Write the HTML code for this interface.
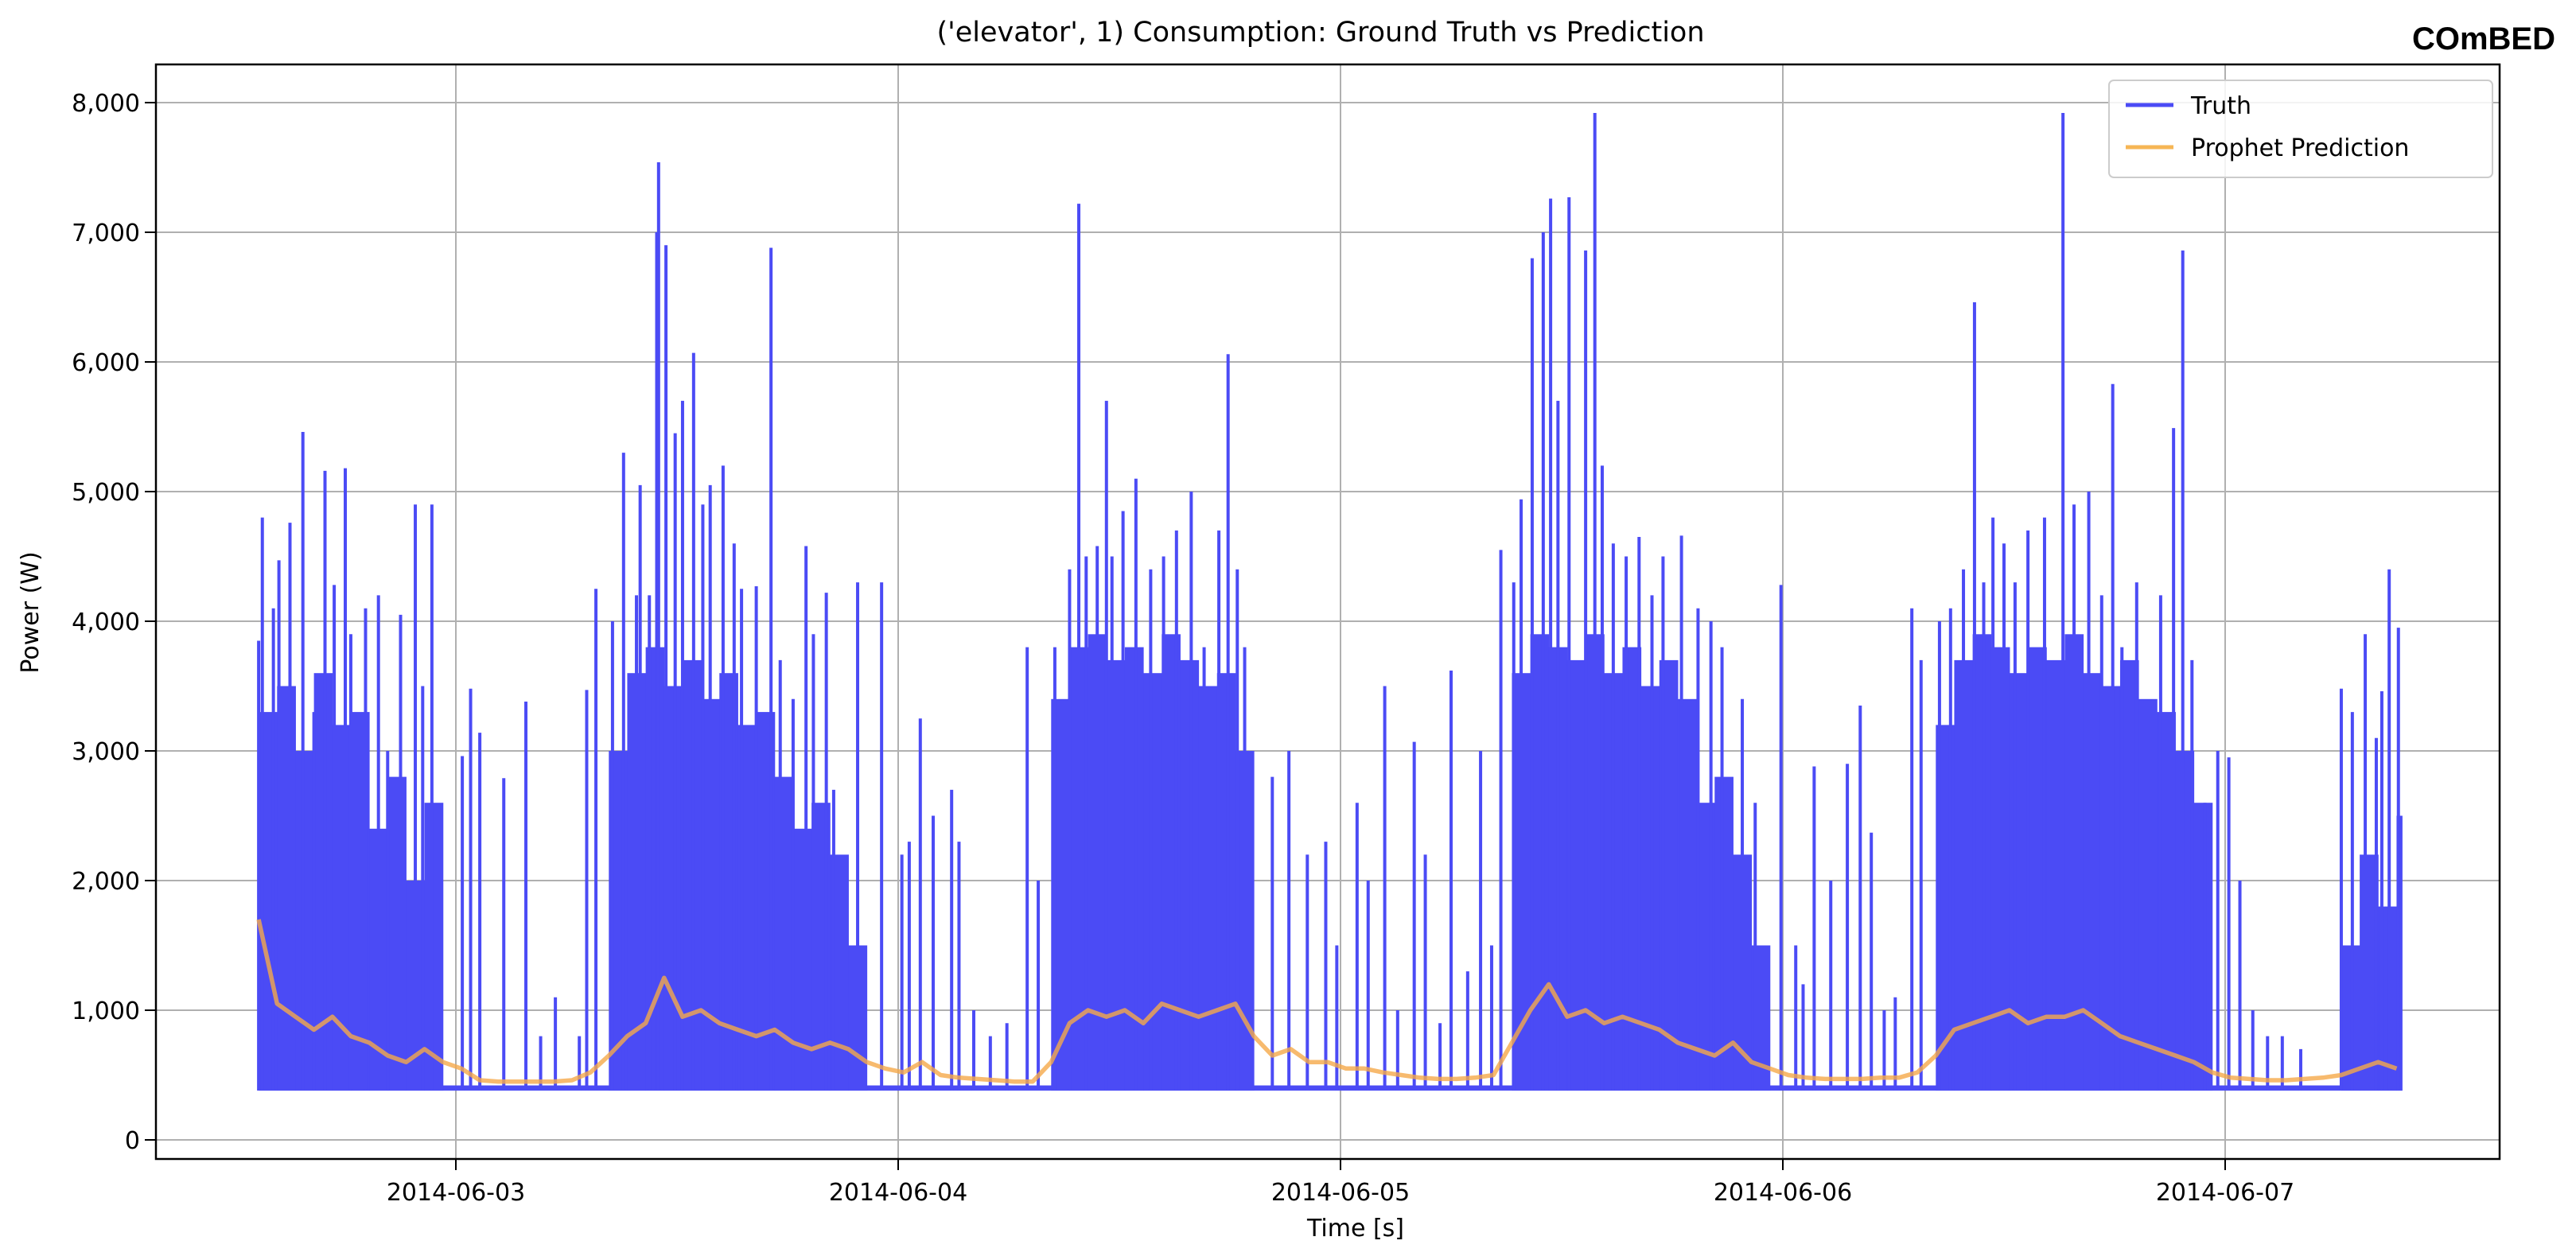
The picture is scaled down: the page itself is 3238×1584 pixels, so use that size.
<!DOCTYPE html>
<html><head><meta charset="utf-8"><style>
body{margin:0;background:#fff;}
svg{display:block;font-family:"DejaVu Sans","Liberation Sans",sans-serif;}
</style></head><body>
<svg id="chart" width="3238" height="1584" viewBox="0 0 3238 1584" xmlns="http://www.w3.org/2000/svg">
<rect width="3238" height="1584" fill="#fff"/>
<text x="1660" y="52" font-size="35" text-anchor="middle">('elevator', 1) Consumption: Ground Truth vs Prediction</text>
<text x="3212" y="62" font-size="40" font-weight="bold" text-anchor="end" font-family="Liberation Sans, sans-serif">COmBED</text>
<g id="grid"></g>
<g id="plot"></g>
<g id="axes"></g>
<text transform="translate(48,770) rotate(-90)" font-size="30" text-anchor="middle">Power (W)</text>
<text x="1704" y="1554" font-size="30" text-anchor="middle">Time [s]</text>
<g>
<rect x="2651" y="101" width="482" height="122" rx="6" fill="#fff" fill-opacity="0.85" stroke="#ccc" stroke-width="2"/>
<line x1="2672" y1="132" x2="2732" y2="132" stroke="#4b4bf5" stroke-width="5"/>
<text x="2754" y="143" font-size="30">Truth</text>
<line x1="2672" y1="185" x2="2732" y2="185" stroke="#f6b655" stroke-width="5"/>
<text x="2754" y="196" font-size="30">Prophet Prediction</text>
</g>
</svg>
<script>
// hours since 2014-06-02 00:00
const spikeHours=[13.3,13.5,14.1,14.4,15.0,15.7,16.3,16.9,17.4,18.0,18.3,19.1,19.8,20.3,21.0,21.8,22.2,22.7,
24.35,24.8,25.3,26.6,27.8,28.6,29.4,30.7,31.1,31.6,
32.5,33.1,33.8,34.0,34.5,34.9,35.0,35.4,35.9,36.3,36.9,37.4,37.8,38.5,39.1,39.5,40.3,41.1,41.6,42.3,43.0,43.4,44.1,44.5,45.8,47.1,
48.2,48.6,49.2,49.9,50.9,51.3,52.1,53.0,53.9,55.0,55.6,
56.5,57.3,57.8,58.2,58.8,59.3,59.6,60.2,60.9,61.7,62.4,63.1,63.9,64.6,65.4,65.9,66.4,66.8,
68.3,69.2,70.2,71.2,71.8,72.9,73.5,74.4,75.1,76.0,76.6,77.4,78.0,78.9,79.6,80.2,
80.7,81.4,81.8,82.4,83.0,83.4,83.8,84.4,85.3,85.8,86.2,86.8,87.5,88.2,88.9,89.5,90.5,91.4,92.1,92.7,93.8,94.5,
95.9,96.7,97.1,97.7,98.6,99.5,100.2,100.8,101.5,102.1,103.0,103.5,
104.5,105.1,105.8,106.4,106.9,107.4,108.0,108.6,109.3,110.2,111.2,111.8,112.6,113.3,113.9,114.4,115.2,116.5,117.2,117.7,118.2,118.9,
119.6,120.2,120.8,121.5,122.3,123.1,124.1,
126.3,126.9,127.6,128.2,128.5,128.9,129.4];
const spikeValues=[3850,4800,4100,4470,4760,5460,3300,5160,4280,5180,3900,4100,4200,3000,4050,4900,3500,4900,
2960,3480,3140,2790,3380,800,1100,800,3470,4250,
4000,5300,4200,5050,4200,7000,7540,6900,5450,5700,6070,4900,5050,5200,4600,4250,4270,6880,3700,3400,4580,3900,4220,2700,4300,4300,
2200,2300,3250,2500,2700,2300,1000,800,900,3800,2000,
3800,4400,7220,4500,4580,5700,4500,4850,5100,4400,4500,4700,5000,3800,4700,6060,4400,3800,
2800,3000,2200,2300,1500,2600,2000,3500,1000,3070,2200,900,3620,1300,3000,1500,
4550,4300,4940,6800,7000,7260,5700,7270,6860,7920,5200,4600,4500,4650,4200,4500,4660,4100,4000,3800,3400,2600,
4280,1500,1200,2880,2000,2900,3350,2370,1000,1100,4100,3700,
4000,4100,4400,6460,4300,4800,4600,4300,4700,4800,7920,4900,5000,4200,5830,3800,4300,4200,5490,6860,3700,2600,
3000,2950,2000,1000,800,800,700,
3480,3300,3900,3100,3460,4400,3950];
// hourly dense-activity top level (0 = idle)
const denseStartHour=13.3;
const denseLevel=[3300,3500,3000,3600,3200,3300,2400,2800,2000,2600,
0,0,0,0,0,0,0,0,0,
3000,3600,3800,3500,3700,3400,3600,3200,3300,
2800,2400,2600,2200,1500,
0,0,0,0,0,0,0,0,0,0,
3400,3800,3900,3700,3800,3600,3900,3700,3500,3600,3000,
0,0,0,0,0,0,0,0,0,0,0,0,0,0,
3600,3900,3800,3700,3900,3600,3800,3500,3700,3400,
2600,2800,2200,1500,
0,0,0,0,0,0,0,0,0,
3200,3700,3900,3800,3600,3800,3700,3900,3600,3500,3700,3400,3300,3000,2600,
0,0,0,0,0,0,0,
1500,2200,1800,2500];
const baseLevel=[420,380];
const seriesStart=13.3, seriesEnd=129.6;
const predStart=13.3, predStep=1;
const predValues=[1700,1050,950,850,950,800,750,650,600,700,600,550,460,450,450,450,450,460,520,650,800,900,1250,950,1000,900,850,800,850,750,700,750,700,600,550,520,600,500,480,470,460,450,450,600,900,1000,950,1000,900,1050,1000,950,1000,1050,800,650,700,600,600,550,550,520,500,480,470,470,480,500,750,1000,1200,950,1000,900,950,900,850,750,700,650,750,600,550,500,480,470,470,470,480,480,520,650,850,900,950,1000,900,950,950,1000,900,800,750,700,650,600,520,480,470,460,460,470,480,500,550,600,550];
const yTicks=[0,1000,2000,3000,4000,5000,6000,7000,8000];
const yTickLabels=["0","1,000","2,000","3,000","4,000","5,000","6,000","7,000","8,000"];
const xTicks=[24,48,72,96,120];
const xTickLabels=["2014-06-03","2014-06-04","2014-06-05","2014-06-06","2014-06-07"];

const L=196,R=3142,T=81,B=1457;
const x=h=>573+(h-24)/24*556;
const y=v=>1433-v*0.163;
const NS="http://www.w3.org/2000/svg";
function mk(tag,attrs,parent){const e=document.createElementNS(NS,tag);for(const k in attrs)e.setAttribute(k,attrs[k]);parent.appendChild(e);return e;}
const grid=document.getElementById('grid'),plot=document.getElementById('plot'),axes=document.getElementById('axes');
yTicks.forEach((v,i)=>{
  const g=mk('line',{x1:L,x2:R,y1:y(v),y2:y(v),stroke:'#b0b0b0','stroke-width':2},grid);
  
  
  mk('line',{x1:L-14,x2:L,y1:y(v),y2:y(v),stroke:'#000','stroke-width':2},axes);
  const t=mk('text',{x:L-20,y:y(v)+11,'font-size':30,'text-anchor':'end'},axes);
  t.textContent=yTickLabels[i];
  
  
});
xTicks.forEach((h,i)=>{
  const g=mk('line',{x1:x(h),x2:x(h),y1:T,y2:B,stroke:'#b0b0b0','stroke-width':2},grid);
  
  
  mk('line',{x1:x(h),x2:x(h),y1:B,y2:B+14,stroke:'#000','stroke-width':2},axes);
  const t=mk('text',{x:x(h),y:B+52,'font-size':30,'text-anchor':'middle'},axes);
  t.textContent=xTickLabels[i];
  
  
});
const blue='#4b4bf5';
const band=mk('rect',{x:x(seriesStart),y:y(baseLevel[0]),width:x(seriesEnd)-x(seriesStart),height:y(baseLevel[1])-y(baseLevel[0]),fill:blue},plot);


denseLevel.forEach((v,i)=>{
  if(!v) return;
  const s=denseStartHour+i, e=Math.min(s+1,seriesEnd);
  const r=mk('rect',{x:x(s),y:y(v),width:x(e)-x(s)+0.5,height:y(baseLevel[1])-y(v),fill:blue},plot);
  
  
});
spikeHours.forEach((h,i)=>{
  const l=mk('line',{x1:x(h),x2:x(h),y1:y(baseLevel[1]),y2:y(spikeValues[i]),stroke:blue,'stroke-width':4},plot);
  
  
});
const pts=predValues.map((v,i)=>x(predStart+i*predStep).toFixed(1)+','+y(v).toFixed(1)).join(' ');
const pl=mk('polyline',{points:pts,fill:'none',stroke:'#f5a94a','stroke-opacity':0.8,'stroke-width':5.5,'stroke-linejoin':'round'},plot);


const fr=mk('rect',{x:L,y:T,width:R-L,height:B-T,fill:'none',stroke:'#000','stroke-width':2.5},axes);


</script>
</body></html>
